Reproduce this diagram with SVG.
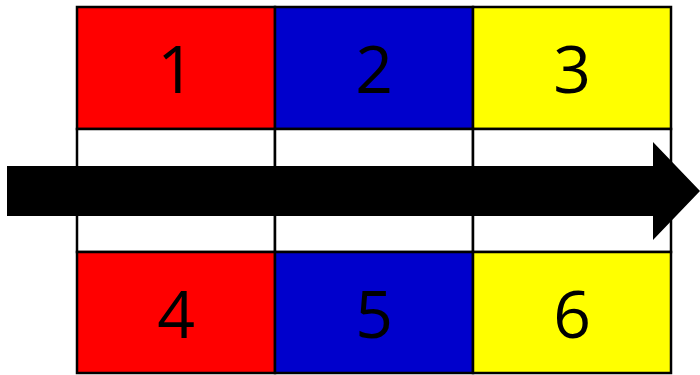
<svg xmlns="http://www.w3.org/2000/svg" width="700" height="375" viewBox="0 0 700 375">
<style>
.c{stroke:#000;stroke-width:2.5}
.t{font-family:"Open Sans","Liberation Sans",sans-serif;font-size:66px;text-anchor:middle;fill:#000}
</style>
<rect width="700" height="375" fill="#fff"/>
<g id="cell1"><rect class="c" x="77" y="7" width="198" height="122" fill="#ff0000"/><text class="t" x="176" y="93">1</text></g>
<g id="cell2"><rect class="c" x="275" y="7" width="198" height="122" fill="#0000cc"/><text class="t" x="374" y="93">2</text></g>
<g id="cell3"><rect class="c" x="473" y="7" width="198" height="122" fill="#ffff00"/><text class="t" x="572" y="93">3</text></g>
<g id="mid1"><rect class="c" x="77" y="129" width="198" height="123" fill="#fff"/></g>
<g id="mid2"><rect class="c" x="275" y="129" width="198" height="123" fill="#fff"/></g>
<g id="mid3"><rect class="c" x="473" y="129" width="198" height="123" fill="#fff"/></g>
<g id="cell4"><rect class="c" x="77" y="252" width="198" height="121" fill="#ff0000"/><text class="t" x="176" y="338">4</text></g>
<g id="cell5"><rect class="c" x="275" y="252" width="198" height="121" fill="#0000cc"/><text class="t" x="374" y="338">5</text></g>
<g id="cell6"><rect class="c" x="473" y="252" width="198" height="121" fill="#ffff00"/><text class="t" x="572" y="338">6</text></g>
<g id="connectors"><polygon points="7,166 653,166 653,142 700,191 653,240 653,216 7,216" fill="#000"/></g>
</svg>
